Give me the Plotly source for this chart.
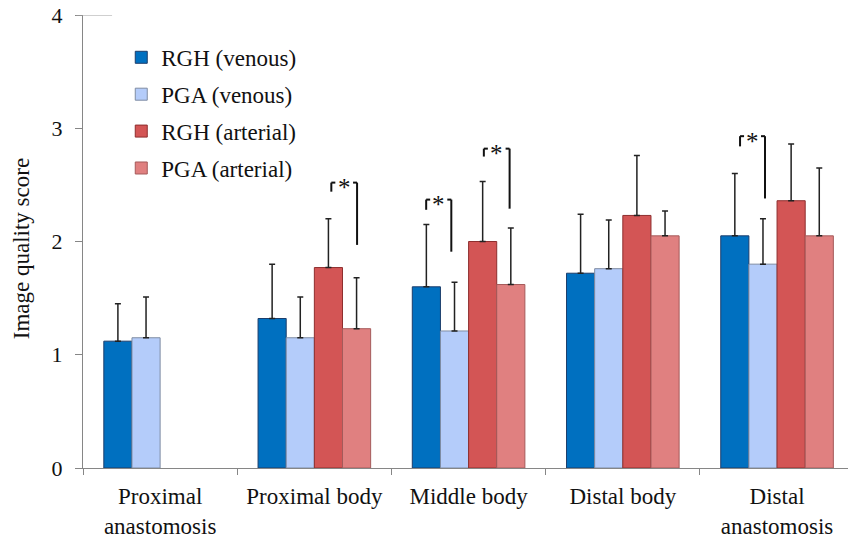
import plotly.graph_objects as go

# Segment names along the x axis
categories = ["Proximal<br>anastomosis", "Proximal body", "Middle body",
              "Distal body", "Distal<br>anastomosis"]

# Mean image quality scores per protocol (None = not assessed)
rgh_venous = [1.12, 1.32, 1.60, 1.72, 2.05]
pga_venous = [1.15, 1.15, 1.21, 1.76, 1.80]
rgh_arterial = [None, 1.77, 2.00, 2.23, 2.36]
pga_arterial = [None, 1.23, 1.62, 2.05, 2.05]

# Standard deviations (upper error bars)
rgh_venous_sd = [0.33, 0.48, 0.55, 0.52, 0.55]
pga_venous_sd = [0.36, 0.36, 0.43, 0.43, 0.40]
rgh_arterial_sd = [None, 0.43, 0.53, 0.53, 0.50]
pga_arterial_sd = [None, 0.45, 0.50, 0.22, 0.60]

series_names = ["RGH (venous)", "PGA (venous)", "RGH (arterial)", "PGA (arterial)"]

# Significance brackets: segment index, left/right x offset within the group,
# top of bracket, bottom of the short left hook, bottom of the long right leg
sig_brackets = [
    (1, 0.110, 0.277, 2.52, 2.44, 1.97),
    (2, -0.275, -0.112, 2.37, 2.28, 1.91),
    (2, 0.099, 0.266, 2.82, 2.75, 2.29),
    (4, -0.240, -0.078, 2.93, 2.84, 2.38),
]

fills = ["#0070C0", "#B4CCFA", "#D35555", "#E08080"]
edges = ["#1C3D6B", "#7F8CA3", "#8E2E2E", "#A55A5A"]

values = [rgh_venous, pga_venous, rgh_arterial, pga_arterial]
errors = [rgh_venous_sd, pga_venous_sd, rgh_arterial_sd, pga_arterial_sd]

fig = go.Figure()
for i, (name, vals, errs) in enumerate(zip(series_names, values, errors)):
    fig.add_trace(go.Bar(
        x=categories, y=vals, name=name, legendgroup=name,
        marker=dict(color=fills[i], line=dict(color=edges[i], width=1)),
        error_y=dict(type="data", array=errs,
                     arrayminus=[0] * len(errs), symmetric=False,
                     color="#222222", thickness=1.5, width=3),
    ))

serif = "Liberation Serif"

shapes = []
annotations = []
hook = 0.026  # short horizontal stub length in category units
for cat, xl, xr, ytop, yhook, yleg in sig_brackets:
    x0 = cat + xl
    x1 = cat + xr
    line = dict(color="#111111", width=2)
    shapes += [
        dict(type="line", xref="x", yref="y", x0=x0, x1=x0, y0=ytop, y1=yhook, line=line),
        dict(type="line", xref="x", yref="y", x0=x0, x1=x0 + hook, y0=ytop, y1=ytop, line=line),
        dict(type="line", xref="x", yref="y", x0=x1 - hook, x1=x1, y0=ytop, y1=ytop, line=line),
        dict(type="line", xref="x", yref="y", x0=x1, x1=x1, y0=ytop, y1=yleg, line=line),
    ]
    annotations.append(dict(
        x=(x0 + x1) / 2, y=ytop, xref="x", yref="y", text="*",
        showarrow=False, xanchor="center", yanchor="middle", yshift=-5,
        font=dict(family=serif, size=25, color="#111111"),
    ))

# short cap line at the top of the value axis
shapes.append(dict(type="line", xref="paper", yref="y", x0=-0.009, x1=0.038,
                   y0=4, y1=4, line=dict(color="#A0A0A0", width=1)))

annotations.append(dict(
    text="Image quality score", xref="paper", yref="paper",
    x=-0.081, y=0.483, xanchor="center", yanchor="middle", textangle=-90,
    showarrow=False, font=dict(family=serif, size=23, color="#111111"),
))

fig.update_layout(
    width=848, height=539,
    margin=dict(l=83, r=0, t=15, b=71),
    paper_bgcolor="white", plot_bgcolor="white",
    barmode="group", bargap=0.27, bargroupgap=0,
    font=dict(family=serif, size=23, color="#111111"),
    legend=dict(x=0.050, y=0.954, xanchor="left", yanchor="top",
                font=dict(family=serif, size=23, color="#111111"),
                tracegroupgap=4, bgcolor="rgba(0,0,0,0)"),
    shapes=shapes, annotations=annotations,
    xaxis=dict(range=[-0.5, 4.46], showline=True, linecolor="#868686",
               linewidth=1, ticks="outside", tickson="boundaries",
               ticklen=6, tickcolor="#868686", showgrid=False,
               ticklabelstandoff=7,
               tickfont=dict(family=serif, size=23, color="#111111")),
    yaxis=dict(range=[0, 4], tickvals=[0, 1, 2, 3, 4], showline=True,
               linecolor="#868686", linewidth=1, ticks="outside",
               ticklen=7, tickcolor="#868686", showgrid=False, zeroline=False,
               ticklabelstandoff=8,
               tickfont=dict(family=serif, size=22, color="#111111")),
)

fig.write_html("out.html")
